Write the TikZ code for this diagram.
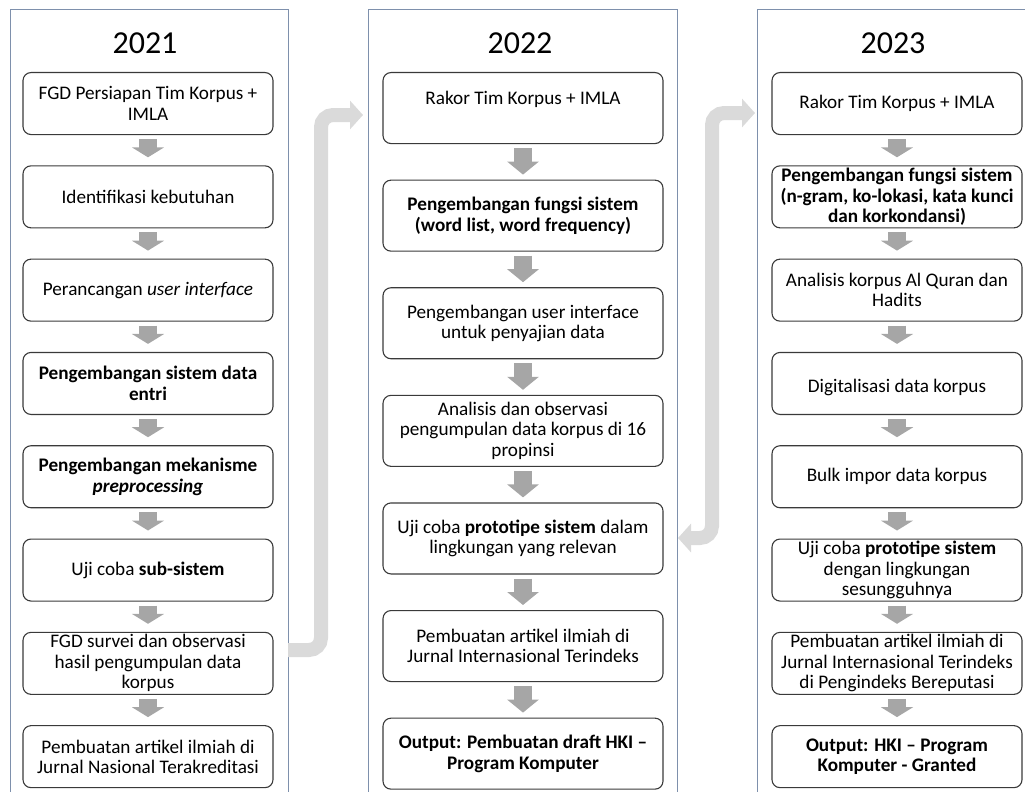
\documentclass[tikz,border=0pt]{standalone}
\usepackage{fontspec}
\setmainfont{Carlito}
\usepackage{tikz}
\usetikzlibrary{arrows.meta}
\usetikzlibrary{positioning}
\definecolor{panelblue}{HTML}{7E90AC}
\definecolor{arrgray}{HTML}{A6A6A6}
\definecolor{lnkgray}{HTML}{DADADA}
\definecolor{boxline}{HTML}{3A3A3A}
\tikzset{pn/.style={draw=panelblue, line width=1pt}}
\tikzset{yr/.style={font=\fontsize{32}{32}\selectfont}}
\tikzset{bx/.style={draw=boxline, line width=1.1pt, rounded corners=8pt, align=center, inner sep=1pt, font=\fontsize{19.2}{20.5}\selectfont}}
\tikzset{bs/.style={bx, minimum width=250pt, minimum height=62pt}}
\tikzset{bw/.style={bx, minimum width=280pt, minimum height=71pt}}
\tikzset{dn/.style={draw=arrgray, line width=18pt, -{Triangle[length=10pt,width=32pt]}, shorten <=4pt, shorten >=8pt}}
\tikzset{dnw/.style={draw=arrgray, line width=18pt, -{Triangle[length=13pt,width=31pt]}, shorten <=4pt, shorten >=5pt}}
\tikzset{lnk/.style={draw=lnkgray, line width=14pt, rounded corners=12pt}}
\tikzset{hd/.tip={Triangle[length=13pt,width=28pt]}}

\begin{document}
\begin{tikzpicture}[x=1pt, y=1pt]
  \useasboundingbox (0,0) rectangle (1025,-792);
  \clip (0,0) rectangle (1025,-792);

  % year panels
  \draw[pn] (10,-10) rectangle (288,-800);
  \draw[pn] (368,-10) rectangle (677,-800);
  \draw[pn] (757,-10) rectangle (1037,-800);

  % links between the years
  \coordinate (s1) at (288,-650);
  \coordinate (k1) at (321,-115);
  \coordinate (t1) at (363,-115);
  \draw[lnk, -hd] (s1) -| (k1) -- (t1);
  \coordinate (s2) at (678,-538);
  \coordinate (k2) at (712,-113);
  \coordinate (t2) at (755,-113);
  \draw[lnk, hd-hd] (s2) -| (k2) -- (t2);

  % 2021
  \node[yr] (y1) at (145,-43) {2021};
  \node[bs, anchor=north] (a1) at (148,-72) {FGD Persiapan Tim Korpus +\\IMLA};
  \node[bs, below=30.2pt of a1] (a2) {Identifikasi kebutuhan};
  \node[bs, below=30.2pt of a2] (a3) {Perancangan \textit{user interface}};
  \node[bs, below=30.2pt of a3] (a4) {\textbf{Pengembangan sistem data}\\\textbf{entri}};
  \node[bs, below=30.2pt of a4] (a5) {\textbf{Pengembangan mekanisme}\\\textbf{\textit{preprocessing}}};
  \node[bs, below=30.2pt of a5] (a6) {Uji coba \textbf{sub-sistem}};
  \node[bs, below=30.2pt of a6] (a7) {FGD survei dan observasi\\hasil pengumpulan data\\korpus};
  \node[bs, below=30.2pt of a7] (a8) {Pembuatan artikel ilmiah di\\Jurnal Nasional Terakreditasi};

  % 2022
  \node[yr] (y2) at (520,-43) {2022};
  \node[bw, anchor=north] (b1) at (523,-72) {Rakor Tim Korpus + IMLA\\\mbox{}};
  \node[bw, below=35.5pt of b1] (b2) {\textbf{Pengembangan fungsi sistem}\\\textbf{(word list, word frequency)}};
  \node[bw, below=35.5pt of b2] (b3) {Pengembangan user interface\\untuk penyajian data};
  \node[bw, below=35.5pt of b3] (b4) {Analisis dan observasi\\pengumpulan data korpus di 16\\propinsi};
  \node[bw, below=35.5pt of b4] (b5) {Uji coba \textbf{prototipe sistem} dalam\\lingkungan yang relevan};
  \node[bw, below=35.5pt of b5] (b6) {Pembuatan artikel ilmiah di\\Jurnal Internasional Terindeks};
  \node[bw, below=35.5pt of b6] (b7) {\textbf{Output: Pembuatan draft HKI –}\\\textbf{Program Komputer}};

  % 2023
  \node[yr] (y3) at (893,-43) {2023};
  \node[bs, anchor=north] (c1) at (897,-72) {Rakor Tim Korpus + IMLA};
  \node[bs, below=30.2pt of c1] (c2) {\textbf{Pengembangan fungsi sistem}\\\textbf{(n-gram, ko-lokasi, kata kunci}\\\textbf{dan korkondansi)}};
  \node[bs, below=30.2pt of c2] (c3) {Analisis korpus Al Quran dan\\Hadits};
  \node[bs, below=30.2pt of c3] (c4) {\mbox{}\\Digitalisasi data korpus};
  \node[bs, below=30.2pt of c4] (c5) {Bulk impor data korpus};
  \node[bs, below=30.2pt of c5] (c6) {Uji coba \textbf{prototipe sistem}\\dengan lingkungan\\sesungguhnya};
  \node[bs, below=30.2pt of c6] (c7) {Pembuatan artikel ilmiah di\\Jurnal Internasional Terindeks\\di Pengindeks Bereputasi};
  \node[bs, below=30.2pt of c7] (c8) {\textbf{Output: HKI – Program}\\\textbf{Komputer - Granted}};

  % steps
  \foreach \p/\q in {a1/a2,a2/a3,a3/a4,a4/a5,a5/a6,a6/a7,a7/a8,c1/c2,c2/c3,c3/c4,c4/c5,c5/c6,c6/c7,c7/c8}
    \draw[dn] (\p) -- (\q);
  \foreach \p/\q in {b1/b2,b2/b3,b3/b4,b4/b5,b5/b6,b6/b7}
    \draw[dnw] (\p) -- (\q);
\end{tikzpicture}
\end{document}
